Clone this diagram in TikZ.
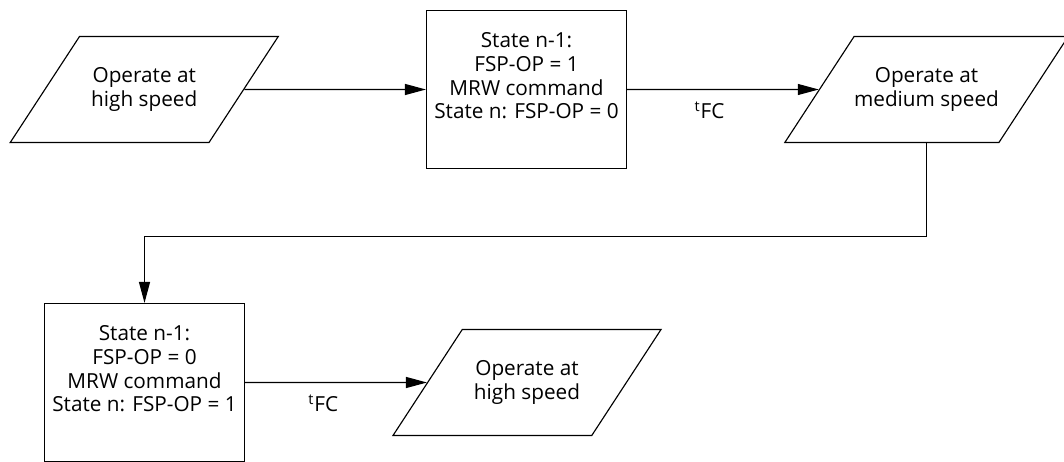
\documentclass[tikz,border=0pt]{standalone}
\usepackage{fontspec}
\setmainfont{Open Sans}
\usetikzlibrary{arrows.meta,shapes.geometric}

\begin{document}
\begin{tikzpicture}[>={Triangle[length=4.2mm,width=2.2mm]},line width=0.65pt,
  every node/.style={font=\fontsize{11.8}{13.4}\selectfont},
  statebox/.style={draw,minimum width=4cm,minimum height=3.16cm,align=center,inner sep=0pt,text depth=0.55cm},
  iobox/.style={draw,trapezium,trapezium left angle=56.7,trapezium right angle=123.3,
    trapezium stretches body,minimum width=5.36cm,minimum height=2.12cm,align=center,
    inner xsep=0pt,inner ysep=17.6pt},
  tlabel/.style={below=6.5pt,inner sep=0pt}]
  \useasboundingbox (0,0) rectangle (21.28,-9.24);
  % top row
  \node[iobox] (high1) at (2.885,-1.79) {Operate at\\high speed};
  \node[statebox] (mrw1) at (10.53,-1.79) {State n-1:\\FSP-OP = 1\\MRW command\\State n: FSP-OP = 0};
  \node[iobox] (medium) at (18.53,-1.79) {Operate at\\medium speed};
  % bottom row
  \node[statebox] (mrw2) at (2.89,-7.65) {State n-1:\\FSP-OP = 0\\MRW command\\State n: FSP-OP = 1};
  \node[iobox] (high2) at (10.54,-7.65) {Operate at\\high speed};
  % connectors
  \draw[->] (high1) -- (mrw1);
  \draw[->] (mrw1) -- (medium) node[tlabel,pos=0.43] {\textsuperscript{t}FC};
  \draw[->] (medium.south) -- ++(0,-1.86) -| (mrw2.north);
  \draw[->] (mrw2) -- (high2) node[tlabel,pos=0.43] {\textsuperscript{t}FC};
\end{tikzpicture}
\end{document}
